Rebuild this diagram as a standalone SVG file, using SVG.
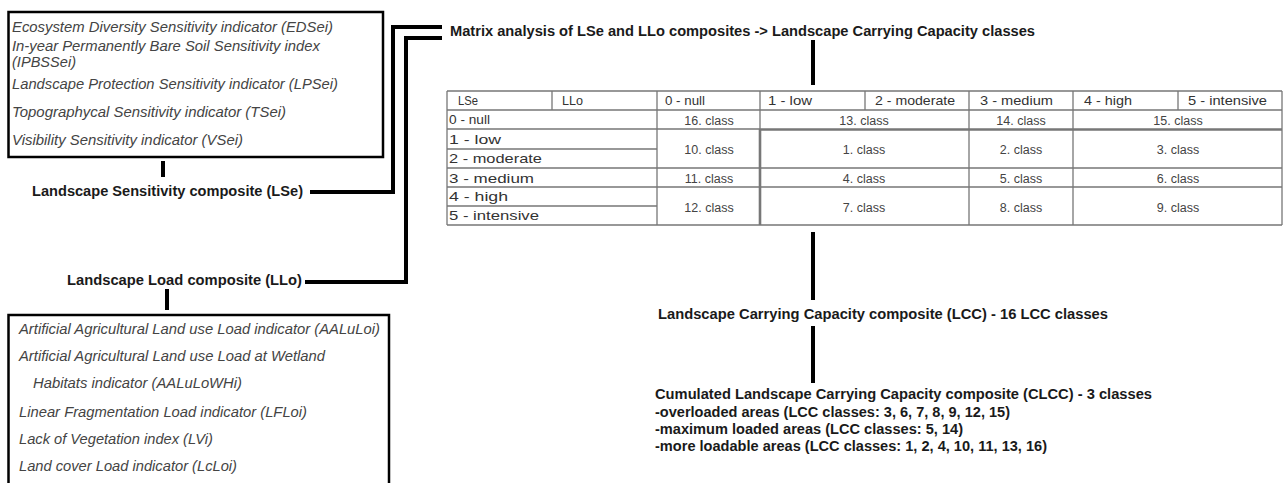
<svg xmlns="http://www.w3.org/2000/svg" width="1283" height="483" viewBox="0 0 1283 483">
<style>
.it{font-family:"Liberation Sans",Arial,sans-serif;font-style:italic;font-size:14px;fill:#444}
.bd{font-family:"Liberation Sans",Arial,sans-serif;font-weight:bold;font-size:14.5px;fill:#1a1a1a}
.th{font-family:"Liberation Sans",Arial,sans-serif;font-size:13px;fill:#333}
.rl{font-family:"Liberation Sans",Arial,sans-serif;font-size:13.5px;fill:#333}
.cl{font-family:"Liberation Sans",Arial,sans-serif;font-size:12.5px;fill:#444;text-anchor:middle}
.box{fill:#fff;stroke:#000;stroke-width:2.5}
.tl{stroke:#777;stroke-width:1.3;fill:none}
.tk{stroke:#777;stroke-width:2.6;fill:none}
.conn{stroke:#000;stroke-width:4;fill:none}
</style>
<rect width="1283" height="483" fill="#fff"/>

<g id="sensitivity-box">
<rect class="box" x="8.5" y="12" width="374.5" height="145"/>
<text class="it" x="12" y="32" textLength="321" lengthAdjust="spacingAndGlyphs">Ecosystem Diversity Sensitivity indicator (EDSei)</text>
<text class="it" x="12" y="51" textLength="308" lengthAdjust="spacingAndGlyphs">In-year Permanently Bare Soil Sensitivity index</text>
<text class="it" x="12" y="67" textLength="64" lengthAdjust="spacingAndGlyphs">(IPBSSei)</text>
<text class="it" x="12" y="89" textLength="326" lengthAdjust="spacingAndGlyphs">Landscape Protection Sensitivity indicator (LPSei)</text>
<text class="it" x="12" y="117" textLength="274" lengthAdjust="spacingAndGlyphs">Topographycal Sensitivity indicator (TSei)</text>
<text class="it" x="12" y="145" textLength="231" lengthAdjust="spacingAndGlyphs">Visibility Sensitivity indicator (VSei)</text>
</g>

<g id="lse">
<text class="bd" x="32" y="196" textLength="271" lengthAdjust="spacingAndGlyphs">Landscape Sensitivity composite (LSe)</text>
</g>

<g id="llo">
<text class="bd" x="67" y="285" textLength="235" lengthAdjust="spacingAndGlyphs">Landscape Load composite (LLo)</text>
</g>

<g id="load-box">
<rect class="box" x="8.5" y="315" width="380.5" height="180"/>
<text class="it" x="19" y="334" textLength="361" lengthAdjust="spacingAndGlyphs">Artificial Agricultural Land use Load indicator (AALuLoi)</text>
<text class="it" x="19" y="361" textLength="306" lengthAdjust="spacingAndGlyphs">Artificial Agricultural Land use Load at Wetland</text>
<text class="it" x="33" y="388" textLength="209" lengthAdjust="spacingAndGlyphs">Habitats indicator (AALuLoWHi)</text>
<text class="it" x="19" y="417" textLength="288" lengthAdjust="spacingAndGlyphs">Linear Fragmentation Load indicator (LFLoi)</text>
<text class="it" x="19" y="444" textLength="194" lengthAdjust="spacingAndGlyphs">Lack of Vegetation index (LVi)</text>
<text class="it" x="19" y="471" textLength="218" lengthAdjust="spacingAndGlyphs">Land cover Load indicator (LcLoi)</text>
</g>

<g id="matrix-title">
<text class="bd" x="450" y="36" textLength="585" lengthAdjust="spacingAndGlyphs">Matrix analysis of LSe and LLo composites -&gt; Landscape Carrying Capacity classes</text>
</g>

<g id="matrix-table">
<rect x="447" y="91" width="835" height="134" fill="#fff"/>
<path class="tl" d="M447,91H1282M447,110H1282M447,129H760M447,149H657M447,168H1282M447,187H1282M447,206H657M447,225H1282"/>
<path class="tl" d="M447,91V225M552,91V110M657,91V225M760,91V129M865,91V110M969,91V225M1073,91V225M1178,91V110M1282,91V225"/>
<path class="tk" d="M760,129.5H1282M760,129V225"/>
<text class="th" x="458" y="105" textLength="20" lengthAdjust="spacingAndGlyphs">LSe</text>
<text class="th" x="562" y="105" textLength="21" lengthAdjust="spacingAndGlyphs">LLo</text>
<text class="th" x="665" y="105" textLength="40" lengthAdjust="spacingAndGlyphs">0 - null</text>
<text class="th" x="768" y="105" textLength="44" lengthAdjust="spacingAndGlyphs">1 - low</text>
<text class="th" x="875" y="105" textLength="80" lengthAdjust="spacingAndGlyphs">2 - moderate</text>
<text class="th" x="980" y="105" textLength="73" lengthAdjust="spacingAndGlyphs">3 - medium</text>
<text class="th" x="1084" y="105" textLength="48" lengthAdjust="spacingAndGlyphs">4 - high</text>
<text class="th" x="1188" y="105" textLength="79" lengthAdjust="spacingAndGlyphs">5 - intensive</text>
<text class="rl" x="449" y="124" textLength="41" lengthAdjust="spacingAndGlyphs">0 - null</text>
<text class="rl" x="449" y="144" textLength="52" lengthAdjust="spacingAndGlyphs">1 - low</text>
<text class="rl" x="449" y="163" textLength="93" lengthAdjust="spacingAndGlyphs">2 - moderate</text>
<text class="rl" x="449" y="183" textLength="85" lengthAdjust="spacingAndGlyphs">3 - medium</text>
<text class="rl" x="449" y="201" textLength="59" lengthAdjust="spacingAndGlyphs">4 - high</text>
<text class="rl" x="449" y="220" textLength="90" lengthAdjust="spacingAndGlyphs">5 - intensive</text>
<text class="cl" x="709" y="125">16. class</text>
<text class="cl" x="864" y="125">13. class</text>
<text class="cl" x="1021" y="125">14. class</text>
<text class="cl" x="1178" y="125">15. class</text>
<text class="cl" x="709" y="154">10. class</text>
<text class="cl" x="864" y="154">1. class</text>
<text class="cl" x="1021" y="154">2. class</text>
<text class="cl" x="1178" y="154">3. class</text>
<text class="cl" x="709" y="183">11. class</text>
<text class="cl" x="864" y="183">4. class</text>
<text class="cl" x="1021" y="183">5. class</text>
<text class="cl" x="1178" y="183">6. class</text>
<text class="cl" x="709" y="212">12. class</text>
<text class="cl" x="864" y="212">7. class</text>
<text class="cl" x="1021" y="212">8. class</text>
<text class="cl" x="1178" y="212">9. class</text>
</g>

<g id="lcc">
<text class="bd" x="658" y="319" textLength="450" lengthAdjust="spacingAndGlyphs">Landscape Carrying Capacity composite (LCC) - 16 LCC classes</text>
</g>

<g id="clcc">
<text class="bd" x="655" y="399" textLength="497" lengthAdjust="spacingAndGlyphs">Cumulated Landscape Carrying Capacity composite (CLCC) - 3 classes</text>
<text class="bd" x="655" y="417" textLength="355" lengthAdjust="spacingAndGlyphs">-overloaded areas (LCC classes: 3, 6, 7, 8, 9, 12, 15)</text>
<text class="bd" x="655" y="434" textLength="308" lengthAdjust="spacingAndGlyphs">-maximum loaded areas (LCC classes: 5, 14)</text>
<text class="bd" x="655" y="451" textLength="392" lengthAdjust="spacingAndGlyphs">-more loadable areas (LCC classes: 1, 2, 4, 10, 11, 13, 16)</text>
</g>

<g id="connectors">
<path class="conn" d="M163,161V177"/>
<path class="conn" d="M310,192H393V27H442"/>
<path class="conn" d="M305,282H406V38H442"/>
<path class="conn" d="M167,289V310"/>
<path class="conn" d="M813,40V85"/>
<path class="conn" d="M813,232V300"/>
<path class="conn" d="M813,326V383"/>
</g>
</svg>
